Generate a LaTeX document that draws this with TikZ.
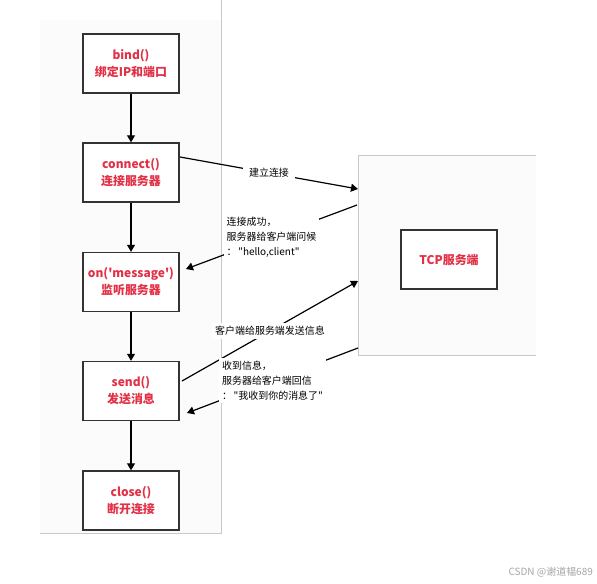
\documentclass[tikz,border=0pt]{standalone}
\usepackage{fontspec}
\setmainfont{Noto Sans CJK SC}[Ligatures=TeXOff]
\usetikzlibrary{arrows.meta}
\definecolor{txtred}{RGB}{226,48,70}
\definecolor{boxline}{RGB}{51,51,51}
\definecolor{panelfill}{RGB}{251,251,251}
\definecolor{panelline}{RGB}{200,200,200}
\tikzset{
  stepbox/.style={draw=boxline, line width=1.4bp, fill=white, minimum width=96bp, minimum height=59bp,
    text=txtred, align=center, font=\fontsize{12}{17}\selectfont\bfseries, inner sep=0pt},
  flow/.style={draw=black, line width=1.2bp, -{Triangle[length=7bp,width=8bp]}},
  msg/.style={fill=white, font=\fontsize{10}{15}\selectfont, align=left, inner sep=3bp},
}
\begin{document}
\begin{tikzpicture}[x=1bp,y=-1bp]
\useasboundingbox (0,0) rectangle (597,584);
\fill[white] (0,0) rectangle (597,584);
% client panel
\fill[panelfill] (40,20) rectangle (221,533);
\draw[panelline, line width=1bp] (40,533) -- (221,533) -- (221,0);
% server panel
\fill[panelfill] (358,156) rectangle (536,355);
\draw[panelline, line width=1bp] (536,156) -- (358,156) -- (358,355) -- (536,355);

\node[stepbox] (bind) at (131,63.5) {bind()\\绑定IP和端口};
\node[stepbox] (connect) at (131,172.5) {connect()\\连接服务器};
\node[stepbox] (onmsg) at (131,282) {on('message')\\监听服务器};
\node[stepbox] (send) at (131,391) {send()\\发送消息};
\node[stepbox] (close) at (131,500.5) {close()\\断开连接};
\node[stepbox] (tcp) at (449,259.5) {TCP服务端};

\draw[flow] (bind) -- (connect);
\draw[flow] (connect) -- (onmsg);
\draw[flow] (onmsg) -- (send);
\draw[flow] (send) -- (close);

\coordinate (c1) at (180,157);
\coordinate (s1) at (358,189);
\coordinate (s2) at (357,205);
\coordinate (c2) at (186,269);
\coordinate (c3) at (182,381);
\coordinate (s3) at (358,281);
\coordinate (s4) at (358,348);
\coordinate (c4) at (187,413);

\draw[flow] (c1) -- node[msg, inner xsep=6bp] (m1) {建立连接} (s1);
\draw[flow] (s2) -- node[msg] (m2) {连接成功，\\服务器给客户端问候\\：\,"hello,client"} (c2);
\draw[flow] (c3) -- node[msg] (m3) {客户端给服务端发送信息} (s3);
\draw[flow] (s4) -- node[msg] (m4) {收到信息，\\服务器给客户端回信\\：\,"我收到你的消息了"} (c4);

\node[anchor=east, text=black!35, font=\fontsize{10}{12}\selectfont, inner sep=0pt] (wm) at (593,572) {CSDN @谢道韫689};
\end{tikzpicture}
\end{document}
